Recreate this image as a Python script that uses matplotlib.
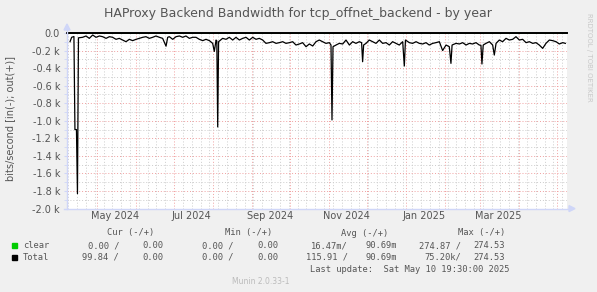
#!/usr/bin/env python3
"""Munin-style yearly graph: HAProxy backend bandwidth for tcp_offnet_backend."""

import datetime as dt

import matplotlib
matplotlib.use("Agg")
import matplotlib.pyplot as plt
from matplotlib.patches import Rectangle, Polygon
from matplotlib.transforms import blended_transform_factory

W, H = 597, 292
START = dt.date(2024, 4, 7)
SPAN_DAYS = 396.8

TITLE = "HAProxy Backend Bandwidth for tcp_offnet_backend - by year"
Y_LABEL = "bits/second [in(-); out(+)]"
SIDE_TEXT = "RRDTOOL / TOBI OETIKER"
FOOTER = "Munin 2.0.33-1"
LAST_UPDATE = "Last update:  Sat May 10 19:30:00 2025"

MONTH_LABELS = ["May 2024", "Jul 2024", "Sep 2024", "Nov 2024", "Jan 2025", "Mar 2025"]
Y_TICKS = [0, -200, -400, -600, -800, -1000, -1200, -1400, -1600, -1800, -2000]
Y_TICK_LABELS = ["0.0", "-0.2 k", "-0.4 k", "-0.6 k", "-0.8 k", "-1.0 k",
                 "-1.2 k", "-1.4 k", "-1.6 k", "-1.8 k", "-2.0 k"]

# Total "in" rate, drawn negative (bits/s), days since START
TOTAL_DAYS = [
    2.4, 3.7, 5.5, 6.3, 7.5, 8.3, 9.1, 12.4, 15.1, 17.7, 20.4, 23.0, 25.7,
    28.3, 31.0, 33.6, 36.2, 38.9, 41.5, 44.2, 46.8, 49.5, 52.1, 54.8, 57.4,
    60.1, 62.7, 65.3, 68.0, 70.6, 73.3, 75.9, 78.6, 79.9, 81.2, 83.9, 86.5,
    89.2, 91.8, 94.4, 97.1, 99.7, 102.4, 105.0, 107.7, 110.3, 113.0, 115.6,
    116.9, 118.3, 118.9, 119.6, 120.3, 123.5, 126.2, 128.8, 131.5, 134.1,
    136.8, 139.4, 142.1, 144.7, 147.4, 150.0, 152.6, 155.3, 157.9, 160.6,
    163.2, 165.9, 168.5, 171.2, 173.8, 176.5, 179.1, 181.7, 184.4, 187.0,
    189.7, 192.3, 195.0,
    197.6, 200.2, 202.9, 205.5, 208.2, 209.5, 210.3, 211.1, 213.5, 216.1,
    218.8, 221.4, 224.1, 226.7, 229.3, 232.0, 233.8, 234.6, 235.4, 237.3,
    239.9, 242.6, 245.2, 247.9, 250.5, 253.2, 255.8, 258.4, 261.1, 263.7,
    266.4, 267.7, 268.6, 271.7, 274.3, 277.0, 279.6, 282.3, 284.9, 287.5,
    290.2, 292.8, 295.5, 298.1, 300.8, 303.4, 304.7, 305.6, 308.7, 311.4,
    314.0, 316.7, 319.3, 321.9, 324.6, 327.2, 328.5, 329.3, 330.3, 332.5,
    335.2, 337.8, 339.1, 340.5, 343.1, 345.7, 348.4, 351.0, 353.7, 356.3,
    359.0, 361.6, 364.3, 366.9, 369.6, 372.2, 374.8, 377.5, 380.1, 382.8,
    385.4, 388.1, 390.7, 393.4, 395.5,
]
TOTAL_IN = [
    -99, -49, -40, -1100, -1100, -1830, -55, -49, -34, -61, -23, -49, -34,
    -42, -61, -42, -49, -72, -61, -80, -99, -72, -87, -72, -61,
    -49, -42, -61, -49, -34, -49, -61, -150, -49, -42, -72, -42,
    -34, -49, -34, -61, -49, -49, -72, -87, -72, -87, -118,
    -210, -80, -90, -1070, -99, -61, -72, -49, -80, -49,
    -80, -61, -49, -80, -49, -72, -61, -80, -118, -110,
    -99, -118, -110, -99, -118, -110, -99, -137, -125, -110,
    -156, -125, -148,
    -99, -80, -99, -118, -110, -137, -990, -156, -137, -118,
    -125, -80, -137, -99, -118, -99, -110, -327, -137, -118,
    -80, -99, -118, -80, -118, -110, -137, -99, -118, -137,
    -99, -376, -80, -110, -118, -99, -118, -125, -110, -137,
    -118, -110, -99, -200, -137, -156, -346, -137, -118, -125,
    -110, -137, -118, -125, -110, -137, -140, -353, -137, -118,
    -99, -137, -251, -118, -80, -99, -61, -80, -72, -42,
    -80, -72, -110, -99, -118, -110, -137, -175, -118, -80,
    -87, -99, -125, -110, -118,
]
# "out" directions and the "clear" series are flat at zero on this scale
OUT_DAYS = [0.0, SPAN_DAYS]
TOTAL_OUT = [0.0, 0.0]
CLEAR_IN = [0.0, 0.0]

LEGEND_HEADERS = ["Cur (-/+)", "Min (-/+)", "Avg (-/+)", "Max (-/+)"]
LEGEND_NAMES = ["clear", "Total"]
LEGEND_COLORS = ["#00CC00", "#000000"]
CLEAR_STATS = ["0.00 /", "0.00", "0.00 /", "0.00", "16.47m/", "90.69m", "274.87 /", "274.53"]
TOTAL_STATS = ["99.84 /", "0.00", "0.00 /", "0.00", "115.91 /", "90.69m", "75.20k/", "274.53"]

FONT_COLOR = "#555555"
AXIS_COLOR = "#CFD6F8"


def fx(x):
    return x / W


def fy(y):
    return 1 - y / H


def day_of(date):
    return (date - START).days


def draw_graph(fig):
    ax = fig.add_axes([fx(67), fy(208.6), fx(500), 175.6 / H])
    ax.set_facecolor("white")
    for s in ax.spines.values():
        s.set_visible(False)

    ax.set_xlim(0, SPAN_DAYS)
    ax.set_ylim(-2000, 0)

    # month starts = major grid, Mondays = minor grid
    month_days, d = [], dt.date(2024, 5, 1)
    while day_of(d) < SPAN_DAYS:
        month_days.append(day_of(d))
        d = dt.date(d.year + (d.month == 12), d.month % 12 + 1, 1)
    week_days = [w for w in range(1, int(SPAN_DAYS) + 1, 7)]
    ax.set_xticks(month_days)
    ax.set_xticks(week_days, minor=True)
    ax.set_xticklabels([])
    ax.set_yticks(Y_TICKS)
    ax.set_yticklabels(Y_TICK_LABELS)
    ax.set_yticks(range(-1900, 0, 200), minor=True)

    ax.tick_params(axis="both", which="both", color=AXIS_COLOR, length=2,
                   labelsize=7, labelcolor=FONT_COLOR, pad=3)
    ax.tick_params(axis="x", which="both", length=0)

    dots = (0, (1, 2))
    ax.grid(True, which="minor", color="#CCCCCC", lw=0.7, linestyle=dots)
    ax.grid(True, which="major", color="#F0A0A0", lw=0.7, linestyle=dots)
    ax.set_axisbelow(True)

    ax.plot(OUT_DAYS, CLEAR_IN, color=LEGEND_COLORS[0], lw=0.6, zorder=2)
    ax.plot(TOTAL_DAYS, TOTAL_IN, color="black", lw=0.9, zorder=3)
    ax.plot(OUT_DAYS, TOTAL_OUT, color="black", lw=1.4, clip_on=False, zorder=4)

    # month labels centred mid-month, under the axis
    trans = blended_transform_factory(ax.transData, ax.transAxes)
    for lab in MONTH_LABELS:
        mid = dt.datetime.strptime(lab, "%b %Y").date().replace(day=15)
        ax.text(day_of(mid), -7.5 / 175.6, lab, transform=trans, ha="center",
                va="center", fontsize=7, color=FONT_COLOR)
    return ax


def draw_axes_arrows(fig):
    fig.add_artist(plt.Line2D([fx(67), fx(67)], [fy(209), fy(28)],
                              color=AXIS_COLOR, lw=1))
    fig.add_artist(plt.Line2D([fx(64), fx(571)], [fy(208.6), fy(208.6)],
                              color=AXIS_COLOR, lw=1))
    fig.add_artist(Polygon([(fx(64), fy(30)), (fx(70), fy(30)), (fx(67), fy(24))],
                           closed=True, color=AXIS_COLOR, transform=fig.transFigure))
    fig.add_artist(Polygon([(fx(569), fy(205.6)), (fx(569), fy(211.6)), (fx(575), fy(208.6))],
                           closed=True, color=AXIS_COLOR, transform=fig.transFigure))


def draw_legend(fig):
    mono = "DejaVu Sans Mono"
    size = 6.3
    header_ends = [154, 272, 388, 505]
    col_ends = [119, 163, 233, 278, 348, 397, 461, 505]
    for txt, xe in zip(LEGEND_HEADERS, header_ends):
        fig.text(fx(xe), fy(233), txt, ha="right", va="center", family=mono,
                 fontsize=size, color=FONT_COLOR)
    rows = [CLEAR_STATS, TOTAL_STATS]
    for i, (name, color, stats) in enumerate(zip(LEGEND_NAMES, LEGEND_COLORS, rows)):
        y = 245.7 + i * 11.6
        fig.add_artist(Rectangle((fx(12), fy(y + 2.5)), 5 / W, 5 / H,
                                 color=color, transform=fig.transFigure))
        fig.text(fx(23), fy(y), name, ha="left", va="center", family=mono,
                 fontsize=size, color=FONT_COLOR)
        for txt, xe in zip(stats, col_ends):
            fig.text(fx(xe), fy(y), txt, ha="right", va="center", family=mono,
                     fontsize=size, color=FONT_COLOR)
    fig.text(fx(510), fy(269), LAST_UPDATE, ha="right", va="center", family=mono,
             fontsize=size, color=FONT_COLOR)
    fig.text(fx(261), fy(281), FOOTER, ha="center", va="center",
             fontsize=5.5, color="#BBBBBB")


def main():
    fig = plt.figure(figsize=(W / 100, H / 100), dpi=100, facecolor="#F0F0F0")
    draw_graph(fig)
    draw_axes_arrows(fig)

    fig.text(fx(298), fy(13), TITLE, ha="center", va="center", fontsize=9,
             color=FONT_COLOR)
    fig.text(fx(10), fy(118), Y_LABEL, ha="center", va="center", rotation=90,
             fontsize=7, color=FONT_COLOR)
    fig.text(fx(589), fy(57), SIDE_TEXT, ha="center", va="center", rotation=270,
             fontsize=5, color="#C8C8C8")
    draw_legend(fig)

    fig.savefig("out.png", dpi=100, facecolor=fig.get_facecolor())
    plt.close(fig)


if __name__ == "__main__":
    main()
